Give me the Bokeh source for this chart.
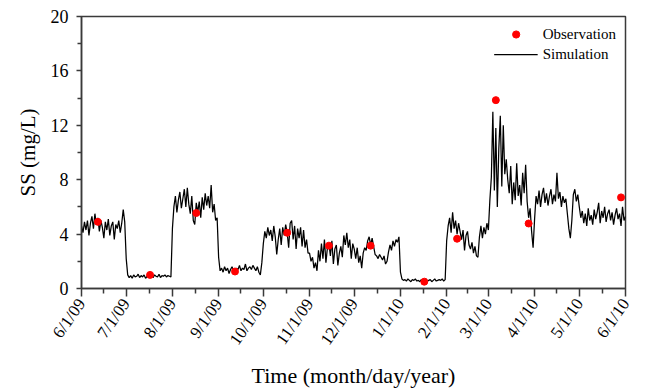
import math
import numpy as np
import pandas as pd
from bokeh.plotting import figure
from bokeh.models import Range1d, FixedTicker, Legend, LegendItem, ColumnDataSource
from bokeh.embed import file_html
from bokeh.resources import INLINE

# ---- data: simulated SS (mg/L), daily values, one list per month ----
jun09 = [4.6, 4.1, 4.9, 4.3, 5.0, 3.9, 4.8, 5.3, 4.4, 5.5, 4.7, 5.2, 4.2, 5.0, 4.5, 3.7, 4.9, 4.3, 5.1, 3.9,
         4.6, 4.9, 3.6, 4.7, 4.4, 5.0, 4.1, 4.8, 5.8, 4.9]
jul09 = [2.2, 1.0, 0.8, 0.95, 0.75, 1.0, 0.85, 0.9, 1.05, 0.8, 0.95, 0.85, 1.0, 0.75, 0.9, 1.05, 0.85, 0.95, 0.8, 1.0,
         0.9, 0.85, 1.05, 0.8, 0.95, 0.9, 1.0, 0.85, 0.95, 0.9, 0.85]
aug09 = [4.4, 6.0, 6.8, 5.6, 6.5, 7.1, 5.9, 6.6, 7.3, 6.0, 7.4, 6.2, 5.5, 6.8, 5.0, 4.7, 6.3, 5.6, 6.4, 5.2,
         6.7, 5.8, 7.0, 6.1, 6.8, 5.9, 7.6, 5.6, 6.2, 5.0, 5.2]
sep09 = [2.3, 1.3, 1.5, 1.2, 1.6, 1.3, 1.5, 1.1, 1.4, 1.6, 1.3, 1.2, 1.5, 1.4, 1.7, 1.3, 1.5, 1.4, 1.8, 1.3,
         1.5, 1.6, 1.4, 1.7, 1.5, 1.3, 1.6, 1.2, 1.0, 1.9]
oct09 = [3.3, 4.2, 3.7, 4.5, 3.9, 4.3, 3.5, 4.6, 3.8, 2.5, 3.6, 4.4, 3.2, 4.5, 3.9, 4.7, 4.1, 3.0, 4.8, 5.0,
         3.6, 4.6, 2.9, 4.4, 3.7, 4.5, 3.1, 4.3, 3.0, 3.6, 2.6]
nov09 = [2.6, 2.0, 2.3, 1.5, 1.9, 1.3, 2.8, 2.0, 3.3, 2.2, 3.6, 1.9, 3.0, 3.3, 2.4, 3.5, 1.8, 2.9, 3.2, 1.7,
         2.6, 3.1, 2.3, 3.9, 3.2, 4.1, 3.0, 3.6, 2.2, 3.3]
dec09 = [2.9, 2.2, 3.0, 1.9, 2.4, 1.5, 2.6, 3.0, 2.8, 3.5, 3.8, 3.2, 3.7, 3.1, 2.5, 2.4, 2.2, 2.5, 2.3, 2.1,
         2.4, 1.8, 2.0, 2.7, 3.2, 2.8, 3.5, 3.1, 3.6, 3.4, 3.8]
jan10 = [1.2, 0.7, 0.6, 0.65, 0.55, 0.7, 0.6, 0.5, 0.65, 0.6, 0.7, 0.55, 0.6, 0.5, 0.65, 0.45, 0.6, 0.7, 0.55, 0.6,
         0.65, 0.5, 0.6, 0.7, 0.55, 0.6, 0.65, 0.6, 0.7, 0.55, 0.65]
feb10 = [3.5, 4.6, 5.2, 4.1, 5.6, 4.4, 5.0, 4.0, 4.8, 4.2, 3.6, 4.3, 2.8, 3.9, 4.2, 3.2, 2.9, 3.4, 2.6, 3.1,
         2.4, 2.3, 3.8, 4.6, 3.7, 4.5, 4.0, 4.8]
mar10 = [4.3, 6.5, 8.2, 13.0, 7.2, 11.8, 6.0, 10.3, 12.7, 7.5, 12.0, 8.4, 9.5, 8.0, 7.0, 9.0, 6.2, 7.8, 6.5, 9.2,
         6.8, 7.6, 6.1, 8.5, 7.0, 9.1, 6.4, 5.2, 5.9, 4.2, 3.0]
apr10 = [5.1, 6.8, 6.2, 7.2, 6.0, 6.9, 7.4, 6.3, 7.0, 6.1, 6.8, 7.3, 6.2, 6.9, 6.4, 8.5, 6.6, 7.1, 6.0, 6.8,
         6.3, 6.6, 5.5, 4.4, 3.7, 5.0, 6.9, 7.3, 6.4, 6.9]
may10 = [6.0, 5.2, 5.7, 4.8, 5.5, 4.6, 5.9, 5.0, 5.4, 4.7, 5.8, 5.1, 5.6, 6.3, 4.8, 5.7, 5.2, 6.0, 4.9, 5.5,
         5.8, 5.0, 5.6, 4.7, 5.4, 5.9, 5.1, 5.5, 4.6, 6.0, 5.0]
jun10 = [5.3]

sim_months = [("2009-06-01", jun09), ("2009-07-01", jul09), ("2009-08-01", aug09), ("2009-09-01", sep09),
              ("2009-10-01", oct09), ("2009-11-01", nov09), ("2009-12-01", dec09), ("2010-01-01", jan10),
              ("2010-02-01", feb10), ("2010-03-01", mar10), ("2010-04-01", apr10), ("2010-05-01", may10),
              ("2010-06-01", jun10)]

# ---- observations ----
obs_dates = ["2009-06-12", "2009-07-17", "2009-08-17", "2009-09-12", "2009-10-17", "2009-11-14",
             "2009-12-12", "2010-01-17", "2010-02-08", "2010-03-06", "2010-03-28", "2010-05-29"]
obs_vals = [4.9, 1.0, 5.55, 1.25, 4.1, 3.15, 3.15, 0.5, 3.66, 13.85, 4.78, 6.7]

# ---- tick labels ----
tick_labels = ["6/1/09", "7/1/09", "8/1/09", "9/1/09", "10/1/09", "11/1/09", "12/1/09",
               "1/1/10", "2/1/10", "3/1/10", "4/1/10", "5/1/10", "6/1/10"]

start = pd.Timestamp("2009-06-01")

sim_x, sim_y = [], []
for mstart, vals in sim_months:
    d = pd.date_range(mstart, periods=len(vals), freq="D")
    sim_x.extend(list((d - start).days))
    sim_y.extend(vals)

obs_x = list((pd.to_datetime(obs_dates) - start).days)

month_starts = pd.date_range("2009-06-01", "2010-06-01", freq="MS")
major = [int(v) for v in (month_starts - start).days]
minor = [(major[i] + major[i + 1]) / 2 for i in range(len(major) - 1)]

p = figure(width=649, height=390, output_backend="svg", toolbar_location=None,
           x_range=Range1d(0, major[-1]), y_range=Range1d(0, 20),
           min_border_left=81, min_border_right=24, min_border_top=16, min_border_bottom=101)
p.background_fill_color = "white"
p.border_fill_color = "white"
p.outline_line_color = "#3a3a3a"
p.outline_line_width = 1.5
p.xgrid.visible = False
p.ygrid.visible = False

sim_src = ColumnDataSource(dict(x=sim_x, y=sim_y))
obs_src = ColumnDataSource(dict(x=obs_x, y=obs_vals))
sim_r = p.line("x", "y", source=sim_src, line_color="black", line_width=1.25)
obs_r = p.scatter("x", "y", source=obs_src, size=7, fill_color="#ff0000", line_color="#ff0000")

font = "Liberation Serif"

xa = p.xaxis[0]
xa.ticker = FixedTicker(ticks=major, minor_ticks=minor)
xa.major_label_overrides = {m: lab for m, lab in zip(major, tick_labels)}
xa.major_label_orientation = math.radians(55)
xa.major_label_text_font = font
xa.major_label_text_font_size = "17px"
xa.major_label_text_color = "black"
xa.major_label_standoff = 4
xa.axis_label = "Time (month/day/year)"
xa.axis_label_text_font = font
xa.axis_label_text_font_size = "22px"
xa.axis_label_text_font_style = "normal"
xa.axis_label_text_color = "black"
xa.axis_label_standoff = 6
xa.axis_line_color = "#3a3a3a"
xa.axis_line_width = 1.5
xa.major_tick_line_color = "#3a3a3a"
xa.minor_tick_line_color = "#3a3a3a"
xa.major_tick_line_width = 1.5
xa.minor_tick_line_width = 1.5
xa.major_tick_in = 0
xa.major_tick_out = 8
xa.minor_tick_in = 0
xa.minor_tick_out = 5

ya = p.yaxis[0]
ya.ticker = FixedTicker(ticks=[0, 4, 8, 12, 16, 20], minor_ticks=[2, 6, 10, 14, 18])
ya.major_label_text_font = font
ya.major_label_text_font_size = "18px"
ya.major_label_text_color = "black"
ya.major_label_standoff = 8
ya.axis_label = "SS (mg/L)"
ya.axis_label_text_font = font
ya.axis_label_text_font_size = "21px"
ya.axis_label_text_font_style = "normal"
ya.axis_label_text_color = "black"
ya.axis_label_standoff = 8
ya.axis_line_color = "#3a3a3a"
ya.axis_line_width = 1.5
ya.major_tick_line_color = "#3a3a3a"
ya.minor_tick_line_color = "#3a3a3a"
ya.major_tick_line_width = 1.5
ya.minor_tick_line_width = 1.5
ya.major_tick_in = 0
ya.major_tick_out = 5
ya.minor_tick_in = 0
ya.minor_tick_out = 4

legend = Legend(items=[LegendItem(label="Observation", renderers=[obs_r]),
                       LegendItem(label="Simulation", renderers=[sim_r])],
                location="top_right", margin=9, padding=5, spacing=2,
                glyph_width=44, glyph_height=18, label_height=18, label_standoff=5,
                label_text_font=font, label_text_font_size="15px", label_text_color="black",
                border_line_color=None, background_fill_alpha=0)
p.add_layout(legend)

open("out.html", "w").write(file_html(p, INLINE))
